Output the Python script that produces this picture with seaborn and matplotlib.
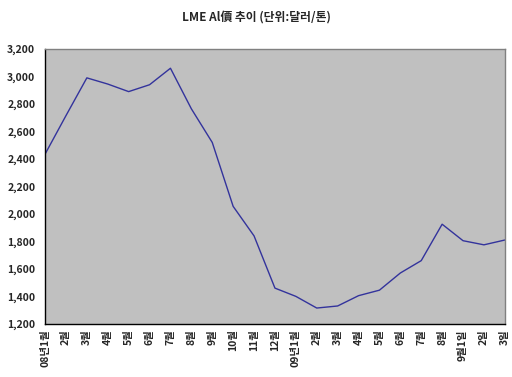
import numpy as np
import pandas as pd
import seaborn as sns
import matplotlib.pyplot as plt

sns.set_style('white')
plt.rcParams['font.family'] = ['Noto Sans CJK KR', 'DejaVu Sans']

# x labels (monthly 08~09, then daily in Sept)
labels = ['08년1월', '2월', '3월', '4월', '5월', '6월', '7월', '8월', '9월', '10월',
          '11월', '12월', '09년1월', '2월', '3월', '4월', '5월', '6월', '7월', '8월',
          '9월1일', '2일', '3일']
# LME aluminium price (USD/ton)
price = [2435, 2715, 2990, 2945, 2890, 2940, 3060, 2765, 2520, 2055,
         1840, 1460, 1400, 1315, 1330, 1405, 1445, 1570, 1660, 1925,
         1805, 1775, 1810]

df = pd.DataFrame({'pos': np.arange(len(labels)), 'price': price})

fig = plt.figure(figsize=(5.12, 3.77), dpi=100)
ax = fig.add_axes([0.088, 0.141, 0.898, 0.729])
ax.set_facecolor('#c0c0c0')

sns.lineplot(data=df, x='pos', y='price', ax=ax, color='#33339c', linewidth=1.0)

ax.set_xlim(0, len(labels) - 1)
ax.set_ylim(1200, 3200)
ax.set_yticks(range(1200, 3201, 200))
ax.set_yticklabels([f'{v:,}' for v in range(1200, 3201, 200)],
                   fontsize=7.5, fontweight='bold')
ax.set_xticks(df['pos'])
ax.set_xticklabels(labels, rotation=90, fontsize=7.5, fontweight='bold')
ax.tick_params(axis='both', direction='in', length=3, width=0.8)
ax.tick_params(axis='y', pad=7)
ax.tick_params(axis='x', pad=4)
ax.set_xlabel('')
ax.set_ylabel('')

for s in ['top', 'right']:
    ax.spines[s].set_color('#808080')
    ax.spines[s].set_linewidth(1.0)
for s in ['left', 'bottom']:
    ax.spines[s].set_color('black')
    ax.spines[s].set_linewidth(1.0)

fig.text(0.5, 0.955, 'LME Al價 추이 (단위:달러/톤)', ha='center', va='center',
         fontsize=8.5, fontweight='bold')

fig.savefig('out.png', dpi=100, facecolor='white')
